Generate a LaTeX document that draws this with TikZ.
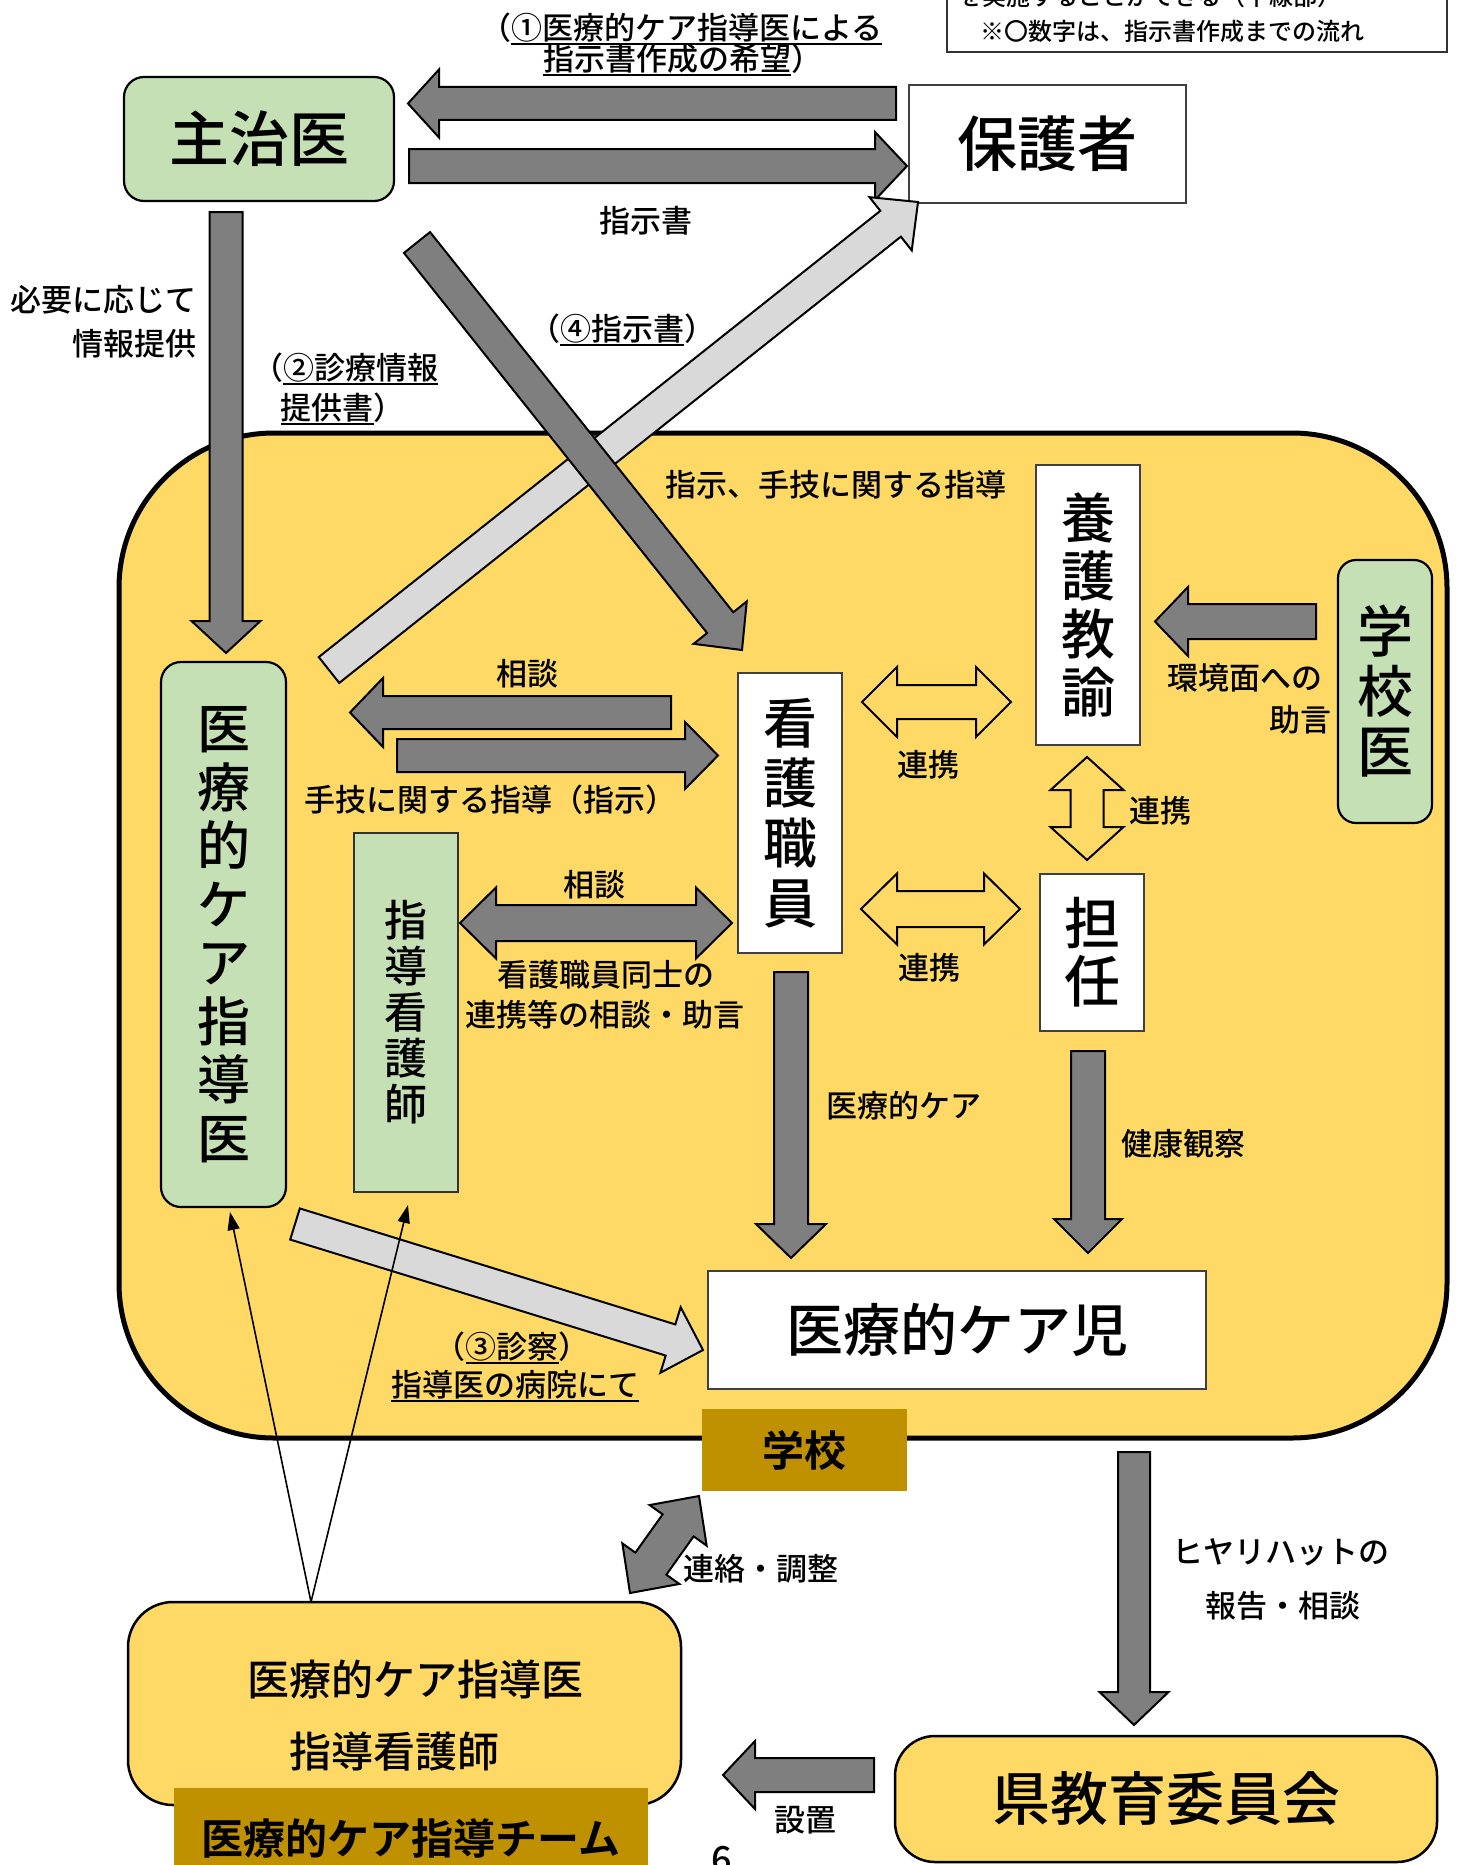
\documentclass[tikz,border=0pt]{standalone}
\usepackage{fontspec}
\setmainfont{Noto Sans CJK JP}[UprightFont={* Medium}, BoldFont={* Bold}]
\usetikzlibrary{calc,arrows.meta}
\definecolor{arrgray}{HTML}{7F7F7F}
\definecolor{lgray}{HTML}{D9D9D9}
\definecolor{grn}{HTML}{C5E0B4}
\definecolor{yel}{HTML}{FFD966}
\definecolor{gold}{HTML}{BF9000}
\newcommand\fs[2]{\fontsize{#1}{#2}\selectfont}
\newcommand\lp{\makebox[0.5em][r]{（}}
\newcommand\rp{\makebox[0.5em][l]{）}}
\newcommand\ulx[1]{\setbox0=\hbox{#1}\leavevmode\rlap{\smash{\rule[-5pt]{\wd0}{2pt}}}\box0}
% block arrow: style, from, to, body half width, head half width, head length
\newcommand\blockarrow[6]{%
  \coordinate (bahd) at ($(#3)!#6pt!(#2)$);
  \draw[#1] ($(#2)!#4pt!90:(#3)$) -- ($(bahd)!#4pt!90:(#3)$) -- ($(bahd)!#5pt!90:(#3)$) -- (#3)
    -- ($(bahd)!#5pt!-90:(#3)$) -- ($(bahd)!#4pt!-90:(#3)$) -- ($(#2)!#4pt!-90:(#3)$) -- cycle;}
\newcommand\dblarrow[6]{%
  \coordinate (dahA) at ($(#2)!#6pt!(#3)$);
  \coordinate (dahB) at ($(#3)!#6pt!(#2)$);
  \draw[#1] (#2) -- ($(dahA)!#5pt!90:(#3)$) -- ($(dahA)!#4pt!90:(#3)$) -- ($(dahB)!#4pt!90:(#3)$)
    -- ($(dahB)!#5pt!90:(#3)$) -- (#3) -- ($(dahB)!#5pt!-90:(#3)$) -- ($(dahB)!#4pt!-90:(#3)$)
    -- ($(dahA)!#4pt!-90:(#3)$) -- ($(dahA)!#5pt!-90:(#3)$) -- cycle;}
\tikzset{
  darr/.style={draw=black, fill=arrgray, line width=2pt, line join=miter},
  larr/.style={draw=black, fill=lgray, line width=2pt, line join=miter},
  harr/.style={draw=black, fill=yel, line width=2pt, line join=miter},
  wbox/.style={draw=black!75, line width=1.5pt, fill=white, inner sep=0pt, align=center},
  gbox/.style={draw=black, line width=2.2pt, fill=grn, rounded corners=20pt, inner sep=0pt, align=center},
  ybox/.style={draw=black, line width=2.5pt, fill=yel, inner sep=0pt, align=center},
  goldbox/.style={fill=gold, inner sep=0pt, font=\bfseries\fs{42}{46}},
  lab/.style={inner sep=0pt, font=\fs{31}{36}},
  thin/.style={line width=1.6pt, -{Triangle[length=18pt,width=12pt]}}
}
\begin{document}
\begin{tikzpicture}[x=1pt,y=-1pt]
\useasboundingbox (0,0) rectangle (1463,1865);
\clip (0,0) rectangle (1463,1865);
\fill[white] (0,0) rectangle (1463,1865);

% note box (top right, partly cut)
\node[draw=black!80, line width=1.5pt, fill=white, minimum width=500pt, minimum height=95pt, anchor=south west, inner sep=0pt] (note) at (946,53) {};
\node[anchor=west, inner sep=0pt, font=\fs{24}{28}] (n1) at (958,-4) {を実施することができる（下線部）};
\node[anchor=west, inner sep=0pt, font=\fs{24}{28}] (n2) at (980,31) {※〇数字は、指示書作成までの流れ};

% school container
\node[draw=black, line width=5pt, fill=yel, rounded corners=155pt, minimum width=1328pt, minimum height=1005pt, inner sep=0pt] (school) at (783,935.5) {};

% boxes
\node[gbox, minimum width=270pt, minimum height=124pt, font=\fs{60}{64}] (shuji) at (259,139) {主治医};
\node[wbox, minimum width=277pt, minimum height=118pt, font=\fs{60}{64}] (hogo) at (1047.5,144) {保護者};
\node[wbox, minimum width=104pt, minimum height=280pt, font=\fs{54}{58}] (yogo) at (1088,605) {養\\護\\教\\諭};
\node[gbox, rounded corners=18pt, minimum width=94pt, minimum height=263pt, font=\fs{56}{60}] (gakkoi) at (1385,691.5) {学\\校\\医};
\node[gbox, minimum width=125pt, minimum height=545pt, font=\fs{53}{58.5}] (shidoi) at (223.5,934.5) {医\\療\\的\\ケ\\ア\\指\\導\\医};
\node[wbox, minimum width=104pt, minimum height=280pt, font=\fs{54}{60}] (kango) at (790,813) {看\\護\\職\\員};
\node[gbox, rounded corners=0pt, line width=1.5pt, draw=black!80, minimum width=104pt, minimum height=359pt, font=\fs{43}{46}] (shidokango) at (406,1012.5) {指\\導\\看\\護\\師};
\node[wbox, minimum width=104pt, minimum height=157pt, font=\fs{56}{58}] (tannin) at (1092,952.5) {担\\任};
\node[wbox, minimum width=498pt, minimum height=118pt, font=\fs{57}{60}] (iryoji) at (957,1330) {医療的ケア児};

% bottom boxes
\node[ybox, rounded corners=45pt, minimum width=553pt, minimum height=203pt] (teambox) at (404.5,1703.5) {};
\node[inner sep=0pt, font=\fs{42}{46}] (tb1) at (415,1680) {医療的ケア指導医};
\node[inner sep=0pt, font=\fs{42}{46}] (tb2) at (394,1752) {指導看護師};
\node[ybox, rounded corners=40pt, minimum width=542pt, minimum height=126pt, font=\fs{58}{62}] (kenkyoi) at (1166,1799) {県教育委員会};

% labels
\node[lab] (l1a) at (689,28) {\lp\ulx{①医療的ケア指導医による}};
\node[lab] (l1b) at (675,59) {\ulx{指示書作成の希望}\rp};
\node[lab] (lshiji) at (646,221) {指示書};
\node[lab, anchor=east] (lhit1) at (197,300) {必要に応じて};
\node[lab, anchor=east] (lhit2) at (197,344) {情報提供};
\node[lab] (l2a) at (353,368) {\lp\ulx{②診療情報}};
\node[lab, anchor=west] (l2b) at (265,408) {\phantom{\lp}\ulx{提供書}\rp};
\node[lab] (l4) at (622,329) {\lp\ulx{④指示書}\rp};
\node[lab] (lshido) at (836,485) {指示、手技に関する指導};
\node[lab] (lkan1) at (1245,678) {環境面への};
\node[lab] (lkan2) at (1300,720) {助言};
\node[lab] (lsod1) at (527,674) {相談};
\node[lab] (lshugi) at (490,800) {手技に関する指導（指示）};
\node[lab] (lren1) at (928,765) {連携};
\node[lab] (lren2) at (1160,811) {連携};
\node[lab] (lren3) at (929,968) {連携};
\node[lab] (lsod2) at (594,885) {相談};
\node[lab] (ldoshi1) at (606,975) {看護職員同士の};
\node[lab] (ldoshi2) at (605,1015) {連携等の相談・助言};
\node[lab] (lcare) at (904,1106) {医療的ケア};
\node[lab] (lkenko) at (1183,1144) {健康観察};
\node[lab] (l3a) at (512,1347) {\lp\ulx{③診察}\rp};
\node[lab] (l3b) at (515,1385) {\ulx{指導医の病院にて}};
\node[lab] (lrenraku) at (761,1569) {連絡・調整};
\node[lab] (lhiyari1) at (1281,1552) {ヒヤリハットの};
\node[lab] (lhiyari2) at (1283,1606) {報告・相談};
\node[lab] (lsecchi) at (805,1820) {設置};
\node[lab, anchor=north, font=\fs{36}{40}] (pg) at (722,1846) {6};

% arrow end points
\coordinate (a1s) at (896,103.5); \coordinate (a1e) at (408,103.5);
\coordinate (a2s) at (409,166);   \coordinate (a2e) at (907,166);
\coordinate (a3s) at (226,212);   \coordinate (a3e) at (226,653);
\coordinate (a4s) at (417,242.5); \coordinate (a4e) at (742,650);
\coordinate (a5s) at (329,670);   \coordinate (a5e) at (918,202);
\coordinate (a6s) at (1316,621.5);\coordinate (a6e) at (1155,621.5);
\coordinate (a7s) at (671,712.5); \coordinate (a7e) at (350,712.5);
\coordinate (a8s) at (397,755.5); \coordinate (a8e) at (718,755.5);
\coordinate (d1s) at (460,923);   \coordinate (d1e) at (732,923);
\coordinate (h1s) at (862,702);   \coordinate (h1e) at (1011,702);
\coordinate (h2s) at (1087,757);  \coordinate (h2e) at (1087,860);
\coordinate (h3s) at (861,909);   \coordinate (h3e) at (1020,909);
\coordinate (a9s) at (791,972);   \coordinate (a9e) at (791,1258);
\coordinate (a10s) at (1088,1051);\coordinate (a10e) at (1088,1253);
\coordinate (a11s) at (295,1224); \coordinate (a11e) at (703,1350);
\coordinate (d2s) at (630,1593);  \coordinate (d2e) at (699,1496);
\coordinate (a12s) at (1134,1452);\coordinate (a12e) at (1134,1725);
\coordinate (a13s) at (874,1775); \coordinate (a13e) at (723,1775);
\coordinate (tapex) at (311,1602);
\coordinate (t1) at (230,1212);
\coordinate (t2) at (408,1205);

% arrows
\blockarrow{darr}{a1s}{a1e}{16.5}{34}{31}
\blockarrow{darr}{a2s}{a2e}{17}{34}{32}
\blockarrow{darr}{a3s}{a3e}{16.5}{34.5}{32}
\blockarrow{larr}{a5s}{a5e}{16.5}{34}{35}
\blockarrow{darr}{a4s}{a4e}{16.7}{34}{35}
\blockarrow{darr}{a6s}{a6e}{17.5}{34.5}{33}
\blockarrow{darr}{a7s}{a7e}{16.5}{34.5}{33}
\blockarrow{darr}{a8s}{a8e}{16.5}{33.5}{33}
\dblarrow{darr}{d1s}{d1e}{18}{35.5}{36}
\dblarrow{harr}{h1s}{h1e}{17}{35}{35}
\dblarrow{harr}{h2s}{h2e}{16.5}{36.5}{33}
\dblarrow{harr}{h3s}{h3e}{18}{35.5}{36}
\blockarrow{darr}{a9s}{a9e}{17}{35}{34}
\blockarrow{darr}{a10s}{a10e}{17}{34}{34}
\blockarrow{larr}{a11s}{a11e}{16.3}{34.3}{34}
\dblarrow{darr}{d2s}{d2e}{19}{35}{36}
\blockarrow{darr}{a12s}{a12e}{16}{34.5}{33}
\blockarrow{darr}{a13s}{a13e}{17}{34}{32}

% thin arrows
\draw[thin] (tapex) -- (t1);
\draw[thin] (tapex) -- (t2);

% gold labels
\node[goldbox, minimum width=205pt, minimum height=82pt] (gakko) at (804.5,1450) {学校};
\node[goldbox, minimum width=474pt, minimum height=100pt] (team) at (411,1838) {医療的ケア指導チーム};
\end{tikzpicture}
\end{document}
